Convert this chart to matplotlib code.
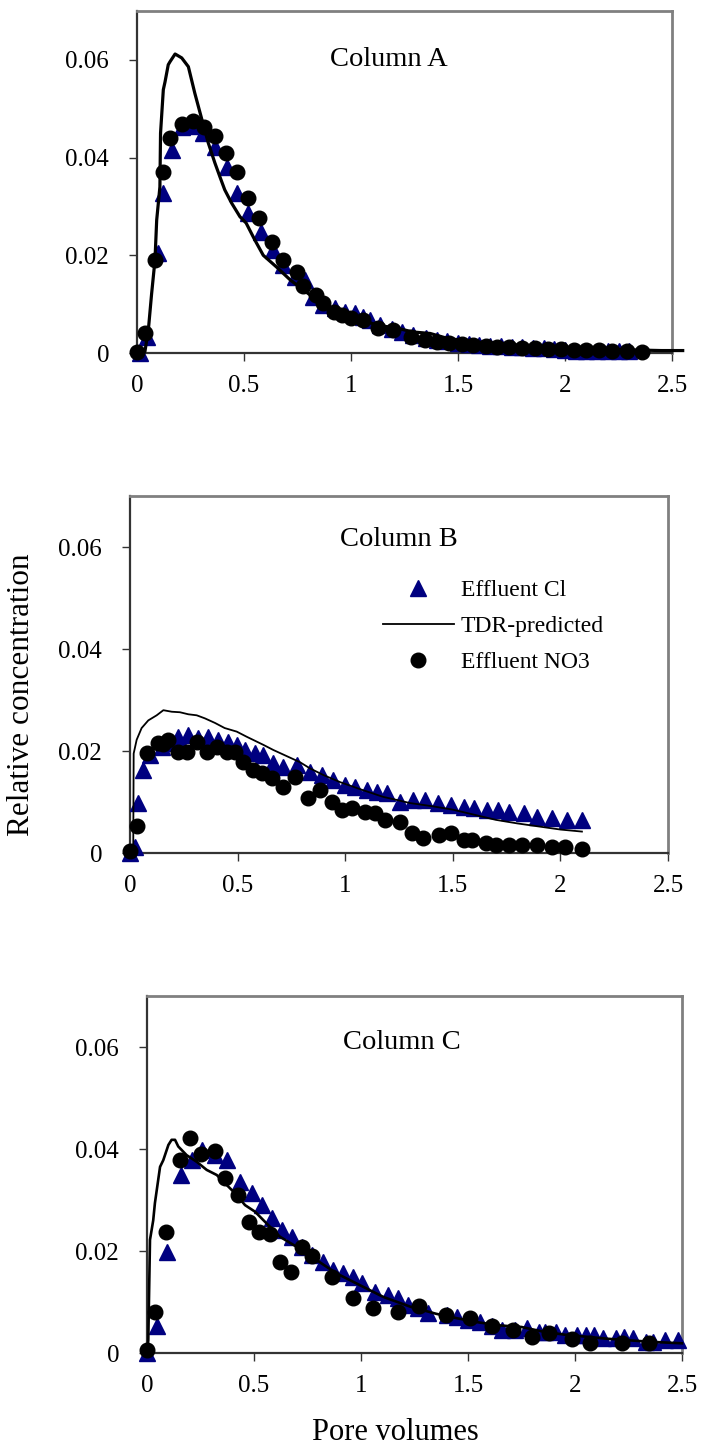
import matplotlib
matplotlib.use("Agg")
import matplotlib.pyplot as plt

plt.rcParams['font.family'] = ['Liberation Serif', 'DejaVu Serif']

# ---- data ----
x_ticks = [0, 0.5, 1, 1.5, 2, 2.5]
x_tick_labels = ["0", "0.5", "1", "1.5", "2", "2.5"]
y_ticks = [0, 0.02, 0.04, 0.06]
y_tick_labels = ["0", "0.02", "0.04", "0.06"]
panel_titles = ["Column A", "Column B", "Column C"]
series_names = ["Effluent Cl", "TDR-predicted", "Effluent NO3"]

# Column A
a_cl_x = [0.015, 0.045, 0.10, 0.123, 0.162, 0.209, 0.255, 0.307, 0.364, 0.419,
          0.468, 0.52, 0.578, 0.634, 0.684, 0.738, 0.785, 0.824, 0.87, 0.925,
          0.97, 1.02, 1.057, 1.09, 1.135, 1.19, 1.24, 1.29, 1.35, 1.40,
          1.45, 1.50, 1.55, 1.60, 1.65, 1.70, 1.75, 1.80, 1.85, 1.90,
          1.95, 2.00, 2.05, 2.10, 2.15, 2.20, 2.25, 2.30]
a_cl_y = [0.0, 0.0033, 0.0205, 0.0327, 0.0416, 0.0463, 0.0465, 0.045, 0.0422, 0.038,
          0.0327, 0.0286, 0.0248, 0.021, 0.018, 0.0156, 0.015, 0.0115, 0.0098, 0.0092,
          0.0084, 0.0082, 0.0074, 0.0068, 0.0057, 0.0049, 0.0043, 0.0037, 0.0031, 0.0027,
          0.0024, 0.0021, 0.0019, 0.0017, 0.0015, 0.0014, 0.0013, 0.0012, 0.0011, 0.0010,
          0.0009, 0.0006, 0.0005, 0.0005, 0.0005, 0.0005, 0.0005, 0.0005]
a_no3_x = [0.0, 0.037, 0.084, 0.12, 0.154, 0.209, 0.26, 0.313, 0.364, 0.416,
           0.466, 0.52, 0.571, 0.629, 0.68, 0.746, 0.777, 0.836, 0.868, 0.92,
           0.956, 1.00, 1.057, 1.127, 1.197, 1.28, 1.345, 1.40, 1.46, 1.52,
           1.57, 1.63, 1.68, 1.74, 1.80, 1.86, 1.92, 1.98, 2.04, 2.10,
           2.16, 2.22, 2.29, 2.36]
a_no3_y = [0.0002, 0.004, 0.019, 0.0371, 0.044, 0.0469, 0.0475, 0.0463, 0.0445, 0.041,
           0.0371, 0.0317, 0.0276, 0.0227, 0.019, 0.0166, 0.0137, 0.0119, 0.0102, 0.0084,
           0.0078, 0.0072, 0.0068, 0.0051, 0.0047, 0.0033, 0.0027, 0.0023, 0.0020, 0.0018,
           0.0016, 0.0014, 0.0013, 0.0012, 0.0011, 0.0010, 0.0009, 0.0008, 0.0007, 0.0007,
           0.0006, 0.0005, 0.0004, 0.0003]
a_tdr_x = [0.0, 0.037, 0.053, 0.068, 0.084, 0.092, 0.107, 0.11, 0.123, 0.131,
           0.146, 0.154, 0.178, 0.209, 0.24, 0.27, 0.30, 0.333, 0.364, 0.388,
           0.41, 0.442, 0.481, 0.51, 0.551, 0.59, 0.652, 0.715, 0.777, 0.84,
           0.933, 1.026, 1.12, 1.213, 1.29, 1.37, 1.45, 1.55, 1.65, 1.75,
           1.85, 1.95, 2.05, 2.15, 2.25, 2.35, 2.45, 2.55]
a_tdr_y = [0.0, 0.0003, 0.0047, 0.012, 0.019, 0.0272, 0.034, 0.045, 0.0539, 0.0555,
           0.059, 0.0596, 0.0612, 0.0604, 0.0586, 0.0532, 0.0483, 0.043, 0.0389, 0.036,
           0.0334, 0.0307, 0.0279, 0.0266, 0.0231, 0.02, 0.0176, 0.015, 0.0129, 0.0109,
           0.0084, 0.0072, 0.0057, 0.0051, 0.0043, 0.0040, 0.0030, 0.0024, 0.0020, 0.0017,
           0.0014, 0.0011, 0.0009, 0.0008, 0.0007, 0.0006, 0.0005, 0.0005]

# Column B
b_cl_x = [0.0, 0.023, 0.039, 0.062, 0.093, 0.147, 0.178, 0.225, 0.271, 0.317,
          0.364, 0.41, 0.456, 0.496, 0.534, 0.58, 0.62, 0.666, 0.712, 0.775,
          0.836, 0.89, 0.945, 0.999, 1.046, 1.10, 1.146, 1.193, 1.255, 1.316,
          1.37, 1.43, 1.49, 1.55, 1.60, 1.66, 1.71, 1.76, 1.83, 1.89,
          1.96, 2.03, 2.10]
b_cl_y = [0.0, 0.0012, 0.0098, 0.0163, 0.0192, 0.0208, 0.0216, 0.0228, 0.0231, 0.0225,
          0.0228, 0.0222, 0.0218, 0.0212, 0.0202, 0.0196, 0.0192, 0.0176, 0.0169, 0.0173,
          0.0159, 0.0153, 0.0143, 0.0133, 0.0129, 0.0123, 0.012, 0.0117, 0.010, 0.0104,
          0.0104, 0.0098, 0.0094, 0.009, 0.0088, 0.0084, 0.0084, 0.008, 0.0078, 0.0071,
          0.0069, 0.0065, 0.0065]
b_no3_x = [0.0, 0.031, 0.077, 0.131, 0.155, 0.178, 0.225, 0.263, 0.31, 0.356,
           0.402, 0.449, 0.488, 0.526, 0.573, 0.612, 0.658, 0.712, 0.767, 0.829,
           0.883, 0.937, 0.983, 1.03, 1.092, 1.138, 1.185, 1.255, 1.31, 1.363,
           1.436, 1.49, 1.55, 1.59, 1.656, 1.70, 1.76, 1.82, 1.89, 1.96,
           2.02, 2.10]
b_no3_y = [0.0003, 0.0052, 0.0196, 0.0216, 0.0214, 0.0222, 0.0198, 0.0198, 0.0218, 0.0198,
           0.0208, 0.0198, 0.0198, 0.0178, 0.0163, 0.0157, 0.0147, 0.0129, 0.0149, 0.0108,
           0.0123, 0.010, 0.0084, 0.0088, 0.008, 0.0078, 0.0065, 0.0061, 0.0039, 0.0029,
           0.0035, 0.0039, 0.0025, 0.0025, 0.002, 0.0016, 0.0016, 0.0016, 0.0016, 0.0012,
           0.0012, 0.0008]
b_tdr_x = [0.015, 0.017, 0.031, 0.054, 0.085, 0.124, 0.155, 0.194, 0.232, 0.271,
           0.31, 0.348, 0.395, 0.44, 0.496, 0.542, 0.62, 0.666, 0.728, 0.79,
           0.836, 0.898, 0.976, 1.084, 1.177, 1.24, 1.30, 1.40, 1.50, 1.60,
           1.70, 1.80, 1.90, 2.00, 2.10]
b_tdr_y = [0.0, 0.0195, 0.0222, 0.0245, 0.026, 0.027, 0.028, 0.0277, 0.0276, 0.0272,
           0.027, 0.0264, 0.0255, 0.0245, 0.0238, 0.0228, 0.0212, 0.0202, 0.019, 0.0178,
           0.0166, 0.0153, 0.0139, 0.0123, 0.011, 0.0104, 0.0098, 0.0092, 0.0085, 0.0075,
           0.0065, 0.0058, 0.0052, 0.0046, 0.0042]

# Column C
c_cl_x = [0.0, 0.045, 0.095, 0.157, 0.209, 0.256, 0.318, 0.372, 0.435, 0.489,
          0.536, 0.583, 0.629, 0.676, 0.723, 0.77, 0.824, 0.87, 0.917, 0.964,
          1.003, 1.065, 1.128, 1.175, 1.221, 1.268, 1.314,
          1.40, 1.45, 1.50, 1.555, 1.61, 1.66, 1.72, 1.775, 1.83, 1.86,
          1.91, 1.955, 2.01, 2.05, 2.09, 2.13, 2.19, 2.23, 2.27, 2.33,
          2.365, 2.42, 2.48]
c_cl_y = [0.0, 0.0052, 0.0199, 0.0349, 0.0378, 0.0398, 0.0388, 0.0378, 0.0336, 0.0313,
          0.029, 0.0264, 0.0241, 0.0228, 0.0208, 0.0192, 0.0179, 0.0163, 0.0156, 0.015,
          0.0137, 0.012, 0.0114, 0.0107, 0.0094, 0.0088, 0.0078,
          0.0075, 0.0071, 0.0065, 0.0061, 0.0052, 0.0045, 0.0045, 0.0049, 0.0042, 0.0042,
          0.0042, 0.0035, 0.0035, 0.0035, 0.0035, 0.0029, 0.0029, 0.0032, 0.0029, 0.0022,
          0.0022, 0.0025, 0.0025]
c_no3_x = [0.0, 0.037, 0.089, 0.154, 0.201, 0.251, 0.318, 0.364, 0.427, 0.478,
           0.525, 0.575, 0.621, 0.671, 0.723, 0.77, 0.863, 0.961, 1.058, 1.175,
           1.272, 1.397, 1.51, 1.61, 1.71, 1.80, 1.88, 1.985, 2.07, 2.22, 2.345]
c_no3_y = [0.0006, 0.0081, 0.0238, 0.0378, 0.0421, 0.039, 0.0397, 0.0343, 0.031, 0.0257,
           0.0238, 0.0233, 0.0179, 0.0159, 0.0208, 0.019, 0.015, 0.0107, 0.0088, 0.0081,
           0.0092, 0.0075, 0.0068, 0.0052, 0.0045, 0.0032, 0.0039, 0.0027, 0.002, 0.002, 0.002]
c_tdr_x = [0.0, 0.006, 0.014, 0.029, 0.037, 0.061, 0.076, 0.10, 0.115, 0.131,
           0.146, 0.185, 0.232, 0.279, 0.326, 0.364, 0.419, 0.458, 0.505, 0.559,
           0.621, 0.70, 0.793, 0.886, 0.995, 1.104, 1.229, 1.35, 1.45, 1.55,
           1.65, 1.75, 1.85, 1.95, 2.05, 2.15, 2.25, 2.35, 2.45, 2.50]
c_tdr_y = [0.0, 0.0025, 0.0222, 0.026, 0.0294, 0.0365, 0.0378, 0.0408, 0.0418, 0.0418,
           0.0405, 0.0388, 0.0375, 0.0359, 0.0349, 0.0333, 0.031, 0.029, 0.0277, 0.0254,
           0.0228, 0.0208, 0.0182, 0.0156, 0.0133, 0.011, 0.0091, 0.0077, 0.0068, 0.006,
           0.0054, 0.0051, 0.0042, 0.0036, 0.0032, 0.0028, 0.0025, 0.0022, 0.0020, 0.0019]

W, H = 702, 1452
fig = plt.figure(figsize=(W / 100, H / 100), dpi=100)

# axes boxes in pixels: left, right, top, bottom
boxes = [(137, 672, 11, 353), (130, 668, 496, 853), (147, 682, 996, 1353)]
panels = [
    (a_cl_x, a_cl_y, a_tdr_x, a_tdr_y, a_no3_x, a_no3_y, 2.3, (0.47, 0.857)),
    (b_cl_x, b_cl_y, b_tdr_x, b_tdr_y, b_no3_x, b_no3_y, 1.3, (0.50, 0.877)),
    (c_cl_x, c_cl_y, c_tdr_x, c_tdr_y, c_no3_x, c_no3_y, 1.9, (0.476, 0.871)),
]

navy = "#000080"
for i, (box, p) in enumerate(zip(boxes, panels)):
    l, r, t, b = box
    ax = fig.add_axes([l / W, 1 - b / H, (r - l) / W, (b - t) / H])
    clx, cly, tx, ty, nx, ny, lw, tpos = p
    ax.plot(clx, cly, linestyle="none", marker="^", ms=11, color=navy,
            mec=navy, clip_on=False, label=series_names[0], zorder=3)
    ax.plot(tx, ty, color="black", lw=lw, clip_on=False,
            label=series_names[1], zorder=4)
    ax.plot(nx, ny, linestyle="none", marker="o", ms=10.5, color="black",
            clip_on=False, label=series_names[2], zorder=5)
    ax.set_xlim(0, 2.5)
    ax.set_ylim(0, 0.07)
    ax.set_xticks(x_ticks)
    ax.set_xticklabels(x_tick_labels)
    ax.set_yticks(y_ticks)
    ax.set_yticklabels(y_tick_labels)
    ax.tick_params(direction="out", length=6, width=1, color="#333333",
                   labelsize=18, top=False, right=False)
    ax.tick_params(axis="x", pad=10)
    ax.tick_params(axis="y", pad=14)
    for s in ("top", "right"):
        ax.spines[s].set_color("#808080")
        ax.spines[s].set_linewidth(2)
    for s in ("left", "bottom"):
        ax.spines[s].set_color("#333333")
        ax.spines[s].set_linewidth(1.6)
    ax.text(tpos[0], tpos[1], panel_titles[i], transform=ax.transAxes,
            fontsize=20.5, ha="center", va="center")
    if i == 1:
        ax.legend(loc="upper left", bbox_to_anchor=(0.47, 0.765), frameon=False,
                  fontsize=17, handlelength=3.0, handletextpad=0.3,
                  labelspacing=0.6, borderpad=0, borderaxespad=0)

fig.text(22 / W, 1 - 695 / H, "Relative concentration", rotation=90,
         fontsize=22.5, ha="center", va="center")
fig.text(395 / W, 1 - 1432 / H, "Pore volumes", fontsize=22,
         ha="center", va="center")

fig.savefig("out.png", dpi=100)
